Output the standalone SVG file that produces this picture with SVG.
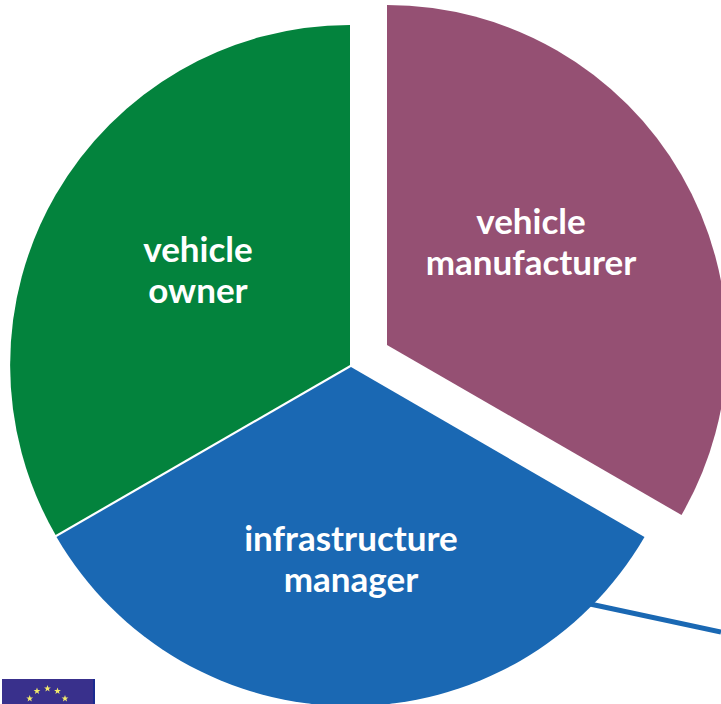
<svg xmlns="http://www.w3.org/2000/svg" width="721" height="704" viewBox="0 0 721 704">
<style>
.l{font-family:"Lato","Open Sans",sans-serif;font-weight:700;font-size:35px;fill:#fff;text-anchor:middle}
.s{fill:#f2ea6c}
</style>
<defs><polygon id="star" points="0,-3.6 0.9,-1.1 3.4,-1.1 1.4,0.4 2.1,2.9 0,1.5 -2.1,2.9 -1.4,0.4 -3.4,-1.1 -0.9,-1.1"/></defs>
<rect width="721" height="704" fill="#fff"/>
<g id="connectors"><line x1="590" y1="604" x2="721" y2="632" stroke="#1a68b3" stroke-width="5"/></g>
<g id="owner"><path d="M350 365V25A339.500 340 0 0 0 55.600 535Z" fill="#03833d"/><text class="l" x="198" y="262">vehicle</text><text class="l" x="198" y="303">owner</text></g>
<g id="manufacturer"><path d="M387 345V5A340 340 0 0 1 681.500 515Z" fill="#955073"/><text class="l" x="531" y="234">vehicle</text><text class="l" x="531" y="275">manufacturer</text></g>
<g id="infrastructure"><path d="M351 367L56.500 537A340 340 0 0 0 644.500 537Z" fill="#1a68b3"/><text class="l" x="351" y="551">infrastructure</text><text class="l" x="351" y="592">manager</text></g>
<g id="flag"><rect x="2" y="679" width="93" height="25" fill="#39308c"/><rect x="93" y="679" width="2" height="25" fill="#1a2a90"/>
<use href="#star" class="s" x="47.500" y="688.500"/><use href="#star" class="s" x="37" y="691"/><use href="#star" class="s" x="57.500" y="691"/><use href="#star" class="s" x="29.700" y="698.500"/><use href="#star" class="s" x="65" y="698.500"/></g>
</svg>
